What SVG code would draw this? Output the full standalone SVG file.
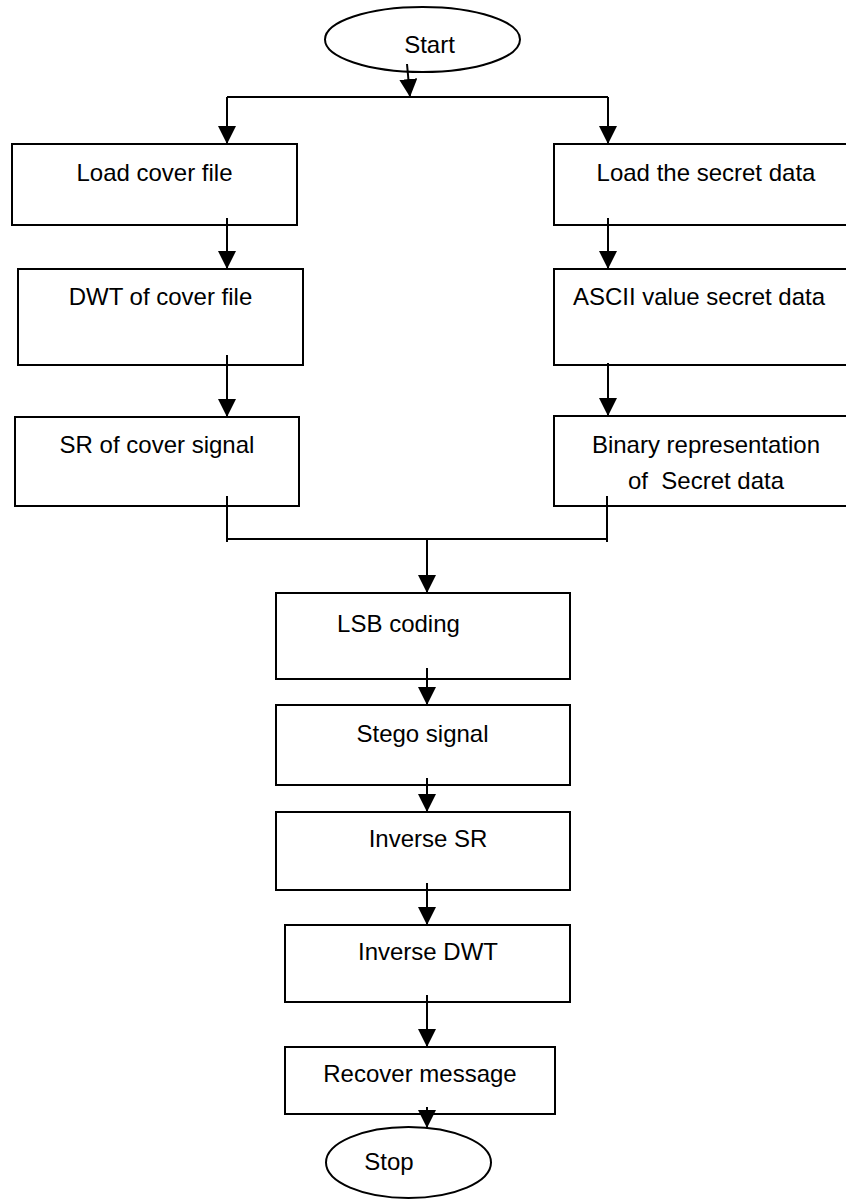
<svg xmlns="http://www.w3.org/2000/svg" width="846" height="1200" viewBox="0 0 846 1200">
  <style>
    .box { fill: #ffffff; stroke: #000000; stroke-width: 2; }
    .term { fill: #ffffff; stroke: #000000; stroke-width: 2; }
    .lbl { font-family: "Liberation Sans", Arial, sans-serif; font-size: 24px; fill: #000000; }
    .wire { fill: none; stroke: #000000; stroke-width: 2; }
    .flow { fill: none; stroke: #000000; stroke-width: 2; marker-end: url(#tip); }
  </style>
  <defs>
    <marker id="tip" markerUnits="userSpaceOnUse" markerWidth="18" markerHeight="18" viewBox="0 0 16 16" refX="16" refY="8" orient="auto">
      <path d="M0,0 L16,8 L0,16 Z" fill="#000000"/>
    </marker>
  </defs>
  <rect width="846" height="1200" fill="#ffffff"/>

  <!-- terminals -->
  <g id="start">
    <ellipse class="term" cx="422.5" cy="39.5" rx="97.5" ry="32.5"/>
    <text class="lbl" x="429.5" y="53" text-anchor="middle">Start</text>
  </g>
  <g id="stop">
    <ellipse class="term" cx="408.5" cy="1162.5" rx="82.5" ry="35.5"/>
    <text class="lbl" x="389" y="1170" text-anchor="middle">Stop</text>
  </g>

  <!-- cover signal branch -->
  <g id="load-cover">
    <rect class="box" x="12" y="144" width="285" height="81"/>
    <text class="lbl" x="154.5" y="181" text-anchor="middle">Load cover file</text>
  </g>
  <g id="dwt-cover">
    <rect class="box" x="18" y="269" width="285" height="96"/>
    <text class="lbl" x="160.5" y="305" text-anchor="middle">DWT of cover file</text>
  </g>
  <g id="sr-cover">
    <rect class="box" x="15" y="417" width="284" height="89"/>
    <text class="lbl" x="157" y="453" text-anchor="middle">SR of cover signal</text>
  </g>

  <!-- secret data branch -->
  <g id="load-secret">
    <rect class="box" x="554" y="144" width="300" height="81"/>
    <text class="lbl" x="706" y="181" text-anchor="middle">Load the secret data</text>
  </g>
  <g id="ascii-secret">
    <rect class="box" x="554" y="269" width="300" height="96"/>
    <text class="lbl" x="699" y="305" text-anchor="middle">ASCII value secret data</text>
  </g>
  <g id="binary-secret">
    <rect class="box" x="554" y="416" width="300" height="90"/>
    <text class="lbl" x="706" y="453" text-anchor="middle">Binary representation</text>
    <text class="lbl" x="706" y="489" text-anchor="middle" xml:space="preserve">of  Secret data</text>
  </g>

  <!-- merged chain -->
  <g id="lsb">
    <rect class="box" x="276" y="593" width="294" height="86"/>
    <text class="lbl" x="398.5" y="632" text-anchor="middle">LSB coding</text>
  </g>
  <g id="stego">
    <rect class="box" x="276" y="705" width="294" height="80"/>
    <text class="lbl" x="422.5" y="742" text-anchor="middle">Stego signal</text>
  </g>
  <g id="inv-sr">
    <rect class="box" x="276" y="812" width="294" height="78"/>
    <text class="lbl" x="428" y="847" text-anchor="middle">Inverse SR</text>
  </g>
  <g id="inv-dwt">
    <rect class="box" x="285" y="925" width="285" height="77"/>
    <text class="lbl" x="428" y="960" text-anchor="middle">Inverse DWT</text>
  </g>
  <g id="recover">
    <rect class="box" x="285" y="1047" width="270" height="67"/>
    <text class="lbl" x="420" y="1082" text-anchor="middle">Recover message</text>
  </g>

  <!-- connectors -->
  <g id="connectors">
    <line class="flow" x1="407" y1="64" x2="410" y2="97"/>
    <line class="wire" x1="227" y1="97" x2="608" y2="97"/>
    <line class="flow" x1="227" y1="97" x2="227" y2="144"/>
    <line class="flow" x1="608" y1="97" x2="608" y2="144"/>

    <line class="flow" x1="227" y1="218" x2="227" y2="269"/>
    <line class="flow" x1="608" y1="218" x2="608" y2="269"/>
    <line class="flow" x1="227" y1="355" x2="227" y2="417"/>
    <line class="flow" x1="608" y1="363" x2="608" y2="416"/>

    <line class="wire" x1="227" y1="496" x2="227" y2="542"/>
    <line class="wire" x1="607" y1="496" x2="607" y2="542"/>
    <line class="wire" x1="227" y1="539" x2="607" y2="539"/>
    <line class="flow" x1="427" y1="539" x2="427" y2="593"/>

    <line class="flow" x1="427" y1="668" x2="427" y2="705"/>
    <line class="flow" x1="427" y1="778" x2="427" y2="812"/>
    <line class="flow" x1="427" y1="883" x2="427" y2="925"/>
    <line class="flow" x1="427" y1="995" x2="427" y2="1047"/>
    <line class="flow" x1="427" y1="1107" x2="427" y2="1128"/>
  </g>
</svg>
